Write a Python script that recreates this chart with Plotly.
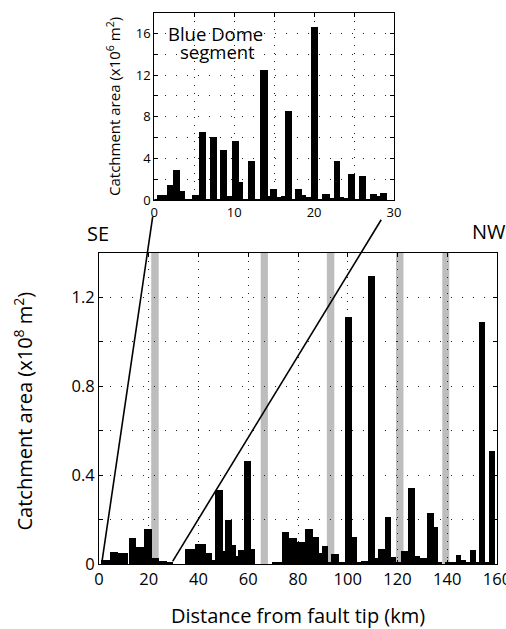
import plotly.graph_objects as go

W, H = 506, 629

# ---------------- data ----------------
# Main panel: catchment extent along fault (km) and area (x10^8 m^2)
main_start_km = [0.8, 4.4, 7.6, 12.0, 14.9, 18.2, 21.2, 24.2, 27.2,
                 34.5, 38.5, 43.0, 45.3, 46.6, 49.7, 50.6, 53.5, 55.0, 56.0, 58.2, 61.0,
                 69.7, 73.4, 76.4, 79.4, 82.9, 86.0, 88.6, 89.5, 92.1, 93.4, 96.4,
                 98.8, 101.7, 103.7, 105.5, 108.2, 110.8, 112.2, 114.9, 117.3, 119.3,
                 121.3, 124.2, 127.2, 129.0, 131.9, 134.5, 136.3, 139.0, 141.0, 143.6,
                 145.6, 147.6, 149.0, 151.7, 152.6, 155.3, 156.6]
main_end_km = [4.4, 7.6, 11.8, 14.9, 18.2, 21.2, 24.2, 27.2, 29.6,
               38.5, 43.0, 45.3, 46.6, 49.7, 50.6, 53.5, 55.0, 56.0, 58.2, 61.0, 62.8,
               73.4, 76.4, 79.4, 82.9, 86.0, 88.6, 89.5, 92.1, 93.4, 96.4, 98.8,
               101.7, 103.7, 105.5, 108.2, 110.8, 112.2, 114.9, 117.3, 119.3, 121.3,
               124.2, 127.2, 129.0, 131.9, 134.5, 136.3, 138.0, 141.0, 143.6, 145.6,
               147.6, 149.0, 151.7, 152.6, 155.3, 156.6, 159.3]
main_area = [0.018, 0.055, 0.048, 0.115, 0.078, 0.157, 0.025, 0.015, 0.006,
             0.067, 0.090, 0.050, 0.018, 0.335, 0.060, 0.200, 0.087, 0.038, 0.062, 0.464, 0.066,
             0.010, 0.145, 0.115, 0.100, 0.156, 0.120, 0.048, 0.082, 0.010, 0.045, 0.010,
             1.114, 0.123, 0.006, 0.015, 1.298, 0.025, 0.067, 0.212, 0.033, 0.005,
             0.058, 0.343, 0.036, 0.027, 0.230, 0.168, 0.005, 0.006, 0.010, 0.040,
             0.020, 0.005, 0.063, 0.005, 1.091, 0.010, 0.509]

# Inset: Blue Dome segment, area (x10^6 m^2)
inset_start_km = [0.0, 0.4, 1.6, 2.4, 3.3, 3.9, 4.8, 5.6, 6.5, 7.0, 7.9, 8.3, 9.1, 9.8,
                  10.7, 11.2, 11.8, 12.7, 13.3, 14.3, 14.5, 15.4, 15.9, 16.4, 17.3, 17.6,
                  18.5, 19.0, 19.6, 20.5, 21.0, 22.0, 22.5, 23.3, 23.8, 24.3, 25.2, 25.6,
                  26.5, 27.0, 27.9, 28.3]
inset_end_km = [0.4, 1.6, 2.4, 3.3, 3.9, 4.8, 5.6, 6.5, 7.0, 7.9, 8.3, 9.1, 9.8, 10.7,
                11.2, 11.8, 12.7, 13.3, 14.3, 14.5, 15.4, 15.9, 16.4, 17.3, 17.6, 18.5,
                19.0, 19.6, 20.5, 21.0, 22.0, 22.5, 23.3, 23.8, 24.3, 25.2, 25.6, 26.5,
                27.0, 27.9, 28.3, 29.1]
inset_area = [0.10, 0.48, 1.50, 2.87, 0.86, 0.05, 0.54, 6.60, 0.15, 6.05, 0.15, 4.84, 0.40, 5.74,
              1.80, 0.10, 3.76, 0.15, 12.52, 0.38, 1.12, 0.30, 0.38, 8.60, 0.15, 1.05,
              0.48, 0.35, 16.63, 0.15, 0.57, 0.25, 3.73, 0.30, 0.20, 2.49, 0.15, 2.33,
              0.15, 0.64, 0.43, 0.70]

# Segment boundaries (grey bands), km
gap_start_km = [21.0, 65.0, 91.6, 119.4, 138.0]
gap_end_km = [24.0, 67.9, 94.6, 122.4, 140.8]

# Tick spacing (labelled, gridded)
main_x_tick = (20, 20)
main_y_tick = (0.4, 0.2)
inset_x_tick = (10, 5)
inset_y_tick = (4, 2)

# connector: main-axis km at y~0  <->  inset km just below the inset axis
link_main_km = [1.1, 29.6]
link_main_val = [0.003, 0.012]
link_inset_km = [-0.2, 28.4]
link_inset_val = [-1.6, -1.9]

# ---------------- layout geometry ----------------
MAIN_X = [99 / W, 497 / W]
MAIN_Y = [1 - 564 / H, 1 - 253 / H]
INS_X = [154.3 / W, 394 / W]
INS_Y = [1 - 200 / H, 1 - 12.7 / H]
MAIN_XR = [0, 160]
MAIN_YR = [0, 1.4]
INS_XR = [0, 30]
INS_YR = [0, 18]


def to_paper(v, dom, rng):
    return dom[0] + (v - rng[0]) / (rng[1] - rng[0]) * (dom[1] - dom[0])


FONT = "Open Sans"
GRID = "#222222"

fig = go.Figure()

fig.add_trace(go.Bar(
    x=[(a + b) / 2 for a, b in zip(main_start_km, main_end_km)],
    width=[b - a for a, b in zip(main_start_km, main_end_km)],
    y=main_area, marker=dict(color="black", line=dict(width=0)),
    xaxis="x", yaxis="y", showlegend=False))

fig.add_trace(go.Bar(
    x=[(a + b) / 2 for a, b in zip(inset_start_km, inset_end_km)],
    width=[b - a for a, b in zip(inset_start_km, inset_end_km)],
    y=inset_area, marker=dict(color="black", line=dict(width=0)),
    xaxis="x2", yaxis="y2", showlegend=False))

shapes = []
for a, b in zip(gap_start_km, gap_end_km):
    shapes.append(dict(type="rect", xref="x", yref="y", x0=a, x1=b,
                       y0=MAIN_YR[0], y1=MAIN_YR[1], fillcolor="#bdbdbd",
                       line=dict(width=0), layer="below"))
for mk, mv, ik, iv in zip(link_main_km, link_main_val, link_inset_km, link_inset_val):
    shapes.append(dict(type="line", xref="paper", yref="paper",
                       x0=to_paper(mk, MAIN_X, MAIN_XR), y0=to_paper(mv, MAIN_Y, MAIN_YR),
                       x1=to_paper(ik, INS_X, INS_XR), y1=to_paper(iv, INS_Y, INS_YR),
                       line=dict(color="black", width=1.6)))


def axis(domain, rng, ticks, size, dash, anchor):
    major, minor = ticks
    return dict(domain=domain, range=rng, anchor=anchor, automargin=False,
                ticklabeloverflow="allow",
                tick0=0, dtick=major, tickfont=dict(size=size),
                showline=True, linecolor="black", linewidth=1, mirror="ticks",
                ticks="inside", ticklen=4, tickcolor="black", zeroline=False,
                showgrid=True, gridcolor=GRID, gridwidth=1, griddash=dash,
                minor=dict(tick0=0, dtick=minor, ticks="inside", ticklen=4,
                           tickcolor="black", showgrid=True, gridcolor=GRID,
                           gridwidth=1, griddash=dash))


fig.update_layout(
    template="none",
    width=W, height=H, margin=dict(l=0, r=0, t=0, b=0, autoexpand=False),
    paper_bgcolor="white", plot_bgcolor="white", bargap=0, showlegend=False,
    font=dict(family=FONT, color="black"),
    xaxis=axis(MAIN_X, MAIN_XR, main_x_tick, 16.5, "1px,7px", "y"),
    yaxis=axis(MAIN_Y, MAIN_YR, main_y_tick, 16.5, "1px,10px", "x"),
    xaxis2=axis(INS_X, INS_XR, inset_x_tick, 13, "1px,7px", "y2"),
    yaxis2=axis(INS_Y, INS_YR, inset_y_tick, 13, "1px,10px", "x2"),
    shapes=shapes,
)


def ann(text, px, py, size, angle=0):
    fig.add_annotation(text=text, x=px / W, y=1 - py / H, xref="paper", yref="paper",
                       showarrow=False, textangle=angle, font=dict(size=size, family=FONT),
                       xanchor="center", yanchor="middle")


ann("Catchment area (x10<sup>8</sup> m<sup>2</sup>)", 22.5, 411, 20, -90)
ann("Distance from fault tip (km)", 297.5, 615.5, 20)
ann("SE", 98, 233, 20)
ann("NW", 489, 231, 20)
ann("Catchment area (x10<sup>6</sup> m<sup>2</sup>)", 113, 107, 15, -90)
ann("Blue Dome", 215, 33, 18.5)
ann("segment", 217, 52, 18.5)

fig.write_html("out.html",
               post_script="document.body.style.margin='0';document.body.style.overflow='hidden';")
